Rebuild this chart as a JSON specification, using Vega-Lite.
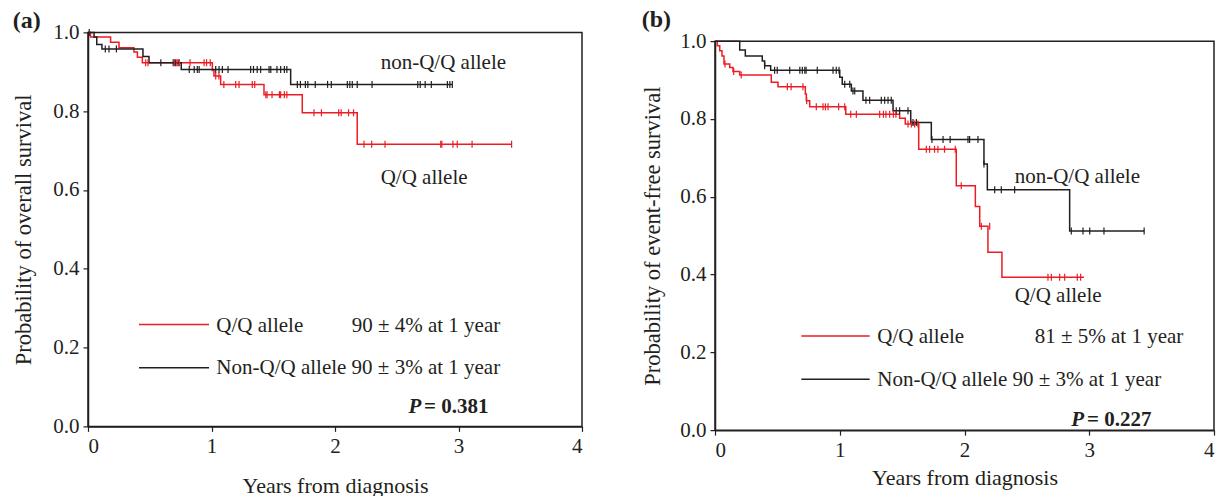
{
  "$schema": "https://vega.github.io/schema/vega-lite/v6.json",
  "background": "white",
  "padding": {"left": 12, "top": 6, "right": 4, "bottom": 0},
  "spacing": 57,
  "center": true,
  "config": {
    "font": "Liberation Serif",
    "view": {"stroke": "#231f20", "strokeWidth": 1.5},
    "axis": {
      "grid": false,
      "domainColor": "#231f20",
      "domainWidth": 1.5,
      "tickColor": "#231f20",
      "tickWidth": 1.2,
      "tickSize": 5,
      "labelColor": "#231f20",
      "titleColor": "#231f20",
      "labelFont": "Liberation Serif",
      "titleFont": "Liberation Serif",
      "labelFontSize": 21,
      "titleFontSize": 22,
      "titleFontWeight": "normal",
      "labelPadding": 4
    },
    "text": {"font": "Liberation Serif", "color": "#231f20"}
  },
  "datasets": {
    "a_steps": [
      {"group": "Q/Q", "t": 0, "s": 1.0},
      {"group": "Q/Q", "t": 0.02, "s": 0.988},
      {"group": "Q/Q", "t": 0.183, "s": 0.975},
      {"group": "Q/Q", "t": 0.251, "s": 0.961},
      {"group": "Q/Q", "t": 0.372, "s": 0.95},
      {"group": "Q/Q", "t": 0.40, "s": 0.937},
      {"group": "Q/Q", "t": 0.44, "s": 0.923},
      {"group": "Q/Q", "t": 1.007, "s": 0.903},
      {"group": "Q/Q", "t": 1.02, "s": 0.889},
      {"group": "Q/Q", "t": 1.074, "s": 0.868},
      {"group": "Q/Q", "t": 1.425, "s": 0.842},
      {"group": "Q/Q", "t": 1.735, "s": 0.796},
      {"group": "Q/Q", "t": 2.18, "s": 0.716},
      {"group": "Q/Q", "t": 3.43, "s": 0.716},
      {"group": "non-Q/Q", "t": 0, "s": 1.0},
      {"group": "non-Q/Q", "t": 0.049, "s": 0.988},
      {"group": "non-Q/Q", "t": 0.071, "s": 0.969},
      {"group": "non-Q/Q", "t": 0.113, "s": 0.958},
      {"group": "non-Q/Q", "t": 0.445, "s": 0.939},
      {"group": "non-Q/Q", "t": 0.494, "s": 0.923},
      {"group": "non-Q/Q", "t": 0.755, "s": 0.906},
      {"group": "non-Q/Q", "t": 1.641, "s": 0.868},
      {"group": "non-Q/Q", "t": 2.95, "s": 0.868}
    ],
    "a_cens": [
      {"group": "non-Q/Q", "t": 0.01, "s": 1.0},
      {"group": "non-Q/Q", "t": 0.14, "s": 0.958},
      {"group": "non-Q/Q", "t": 0.17, "s": 0.958},
      {"group": "non-Q/Q", "t": 0.23, "s": 0.958},
      {"group": "non-Q/Q", "t": 0.59, "s": 0.923},
      {"group": "non-Q/Q", "t": 0.69, "s": 0.923},
      {"group": "non-Q/Q", "t": 0.71, "s": 0.923},
      {"group": "non-Q/Q", "t": 0.73, "s": 0.923},
      {"group": "non-Q/Q", "t": 0.82, "s": 0.906},
      {"group": "non-Q/Q", "t": 0.86, "s": 0.906},
      {"group": "non-Q/Q", "t": 0.885, "s": 0.906},
      {"group": "non-Q/Q", "t": 0.90, "s": 0.906},
      {"group": "non-Q/Q", "t": 1.034, "s": 0.906},
      {"group": "non-Q/Q", "t": 1.061, "s": 0.906},
      {"group": "non-Q/Q", "t": 1.088, "s": 0.906},
      {"group": "non-Q/Q", "t": 1.134, "s": 0.906},
      {"group": "non-Q/Q", "t": 1.317, "s": 0.906},
      {"group": "non-Q/Q", "t": 1.34, "s": 0.906},
      {"group": "non-Q/Q", "t": 1.37, "s": 0.906},
      {"group": "non-Q/Q", "t": 1.398, "s": 0.906},
      {"group": "non-Q/Q", "t": 1.466, "s": 0.906},
      {"group": "non-Q/Q", "t": 1.48, "s": 0.906},
      {"group": "non-Q/Q", "t": 1.53, "s": 0.906},
      {"group": "non-Q/Q", "t": 1.56, "s": 0.906},
      {"group": "non-Q/Q", "t": 1.59, "s": 0.906},
      {"group": "non-Q/Q", "t": 1.61, "s": 0.906},
      {"group": "non-Q/Q", "t": 1.695, "s": 0.868},
      {"group": "non-Q/Q", "t": 1.72, "s": 0.868},
      {"group": "non-Q/Q", "t": 1.76, "s": 0.868},
      {"group": "non-Q/Q", "t": 1.78, "s": 0.868},
      {"group": "non-Q/Q", "t": 1.84, "s": 0.868},
      {"group": "non-Q/Q", "t": 1.94, "s": 0.868},
      {"group": "non-Q/Q", "t": 1.97, "s": 0.868},
      {"group": "non-Q/Q", "t": 2.10, "s": 0.868},
      {"group": "non-Q/Q", "t": 2.12, "s": 0.868},
      {"group": "non-Q/Q", "t": 2.14, "s": 0.868},
      {"group": "non-Q/Q", "t": 2.18, "s": 0.868},
      {"group": "non-Q/Q", "t": 2.30, "s": 0.868},
      {"group": "non-Q/Q", "t": 2.67, "s": 0.868},
      {"group": "non-Q/Q", "t": 2.69, "s": 0.868},
      {"group": "non-Q/Q", "t": 2.73, "s": 0.868},
      {"group": "non-Q/Q", "t": 2.78, "s": 0.868},
      {"group": "non-Q/Q", "t": 2.91, "s": 0.868},
      {"group": "non-Q/Q", "t": 2.93, "s": 0.868},
      {"group": "non-Q/Q", "t": 2.95, "s": 0.868},
      {"group": "Q/Q", "t": 0.467, "s": 0.923},
      {"group": "Q/Q", "t": 0.486, "s": 0.923},
      {"group": "Q/Q", "t": 0.70, "s": 0.923},
      {"group": "Q/Q", "t": 0.72, "s": 0.923},
      {"group": "Q/Q", "t": 0.74, "s": 0.923},
      {"group": "Q/Q", "t": 0.826, "s": 0.923},
      {"group": "Q/Q", "t": 0.94, "s": 0.923},
      {"group": "Q/Q", "t": 0.96, "s": 0.923},
      {"group": "Q/Q", "t": 0.99, "s": 0.923},
      {"group": "Q/Q", "t": 1.034, "s": 0.889},
      {"group": "Q/Q", "t": 1.06, "s": 0.889},
      {"group": "Q/Q", "t": 1.10, "s": 0.868},
      {"group": "Q/Q", "t": 1.196, "s": 0.868},
      {"group": "Q/Q", "t": 1.223, "s": 0.868},
      {"group": "Q/Q", "t": 1.33, "s": 0.868},
      {"group": "Q/Q", "t": 1.35, "s": 0.868},
      {"group": "Q/Q", "t": 1.44, "s": 0.842},
      {"group": "Q/Q", "t": 1.45, "s": 0.842},
      {"group": "Q/Q", "t": 1.49, "s": 0.842},
      {"group": "Q/Q", "t": 1.55, "s": 0.842},
      {"group": "Q/Q", "t": 1.56, "s": 0.842},
      {"group": "Q/Q", "t": 1.59, "s": 0.842},
      {"group": "Q/Q", "t": 1.61, "s": 0.842},
      {"group": "Q/Q", "t": 1.83, "s": 0.796},
      {"group": "Q/Q", "t": 1.89, "s": 0.796},
      {"group": "Q/Q", "t": 2.03, "s": 0.796},
      {"group": "Q/Q", "t": 2.05, "s": 0.796},
      {"group": "Q/Q", "t": 2.11, "s": 0.796},
      {"group": "Q/Q", "t": 2.15, "s": 0.796},
      {"group": "Q/Q", "t": 2.235, "s": 0.716},
      {"group": "Q/Q", "t": 2.297, "s": 0.716},
      {"group": "Q/Q", "t": 2.405, "s": 0.716},
      {"group": "Q/Q", "t": 2.856, "s": 0.716},
      {"group": "Q/Q", "t": 2.865, "s": 0.716},
      {"group": "Q/Q", "t": 2.955, "s": 0.716},
      {"group": "Q/Q", "t": 2.99, "s": 0.716},
      {"group": "Q/Q", "t": 3.11, "s": 0.716},
      {"group": "Q/Q", "t": 3.43, "s": 0.716}
    ],
    "a_notes": [
      {"x": 2.37, "y": 0.922, "label": "non-Q/Q allele"},
      {"x": 2.37, "y": 0.631, "label": "Q/Q allele"},
      {"x": 1.039, "y": 0.256, "label": "Q/Q allele"},
      {"x": 2.135, "y": 0.256, "label": "90 ± 4% at 1 year"},
      {"x": 1.039, "y": 0.147, "label": "Non-Q/Q allele 90 ± 3% at 1 year"}
    ],
    "a_key": [
      {"group": "Q/Q", "x1": 0.413, "x2": 0.98, "y": 0.2586},
      {"group": "non-Q/Q", "x1": 0.413, "x2": 0.98, "y": 0.149}
    ],
    "a_p": [{"x": 2.70, "x2": 2.72, "y": 0.05, "p": "P", "v": "= 0.381"}],
    "b_steps": [
      {"group": "Q/Q", "t": 0, "s": 1.0},
      {"group": "Q/Q", "t": 0.018, "s": 0.988},
      {"group": "Q/Q", "t": 0.038, "s": 0.975},
      {"group": "Q/Q", "t": 0.056, "s": 0.962},
      {"group": "Q/Q", "t": 0.072, "s": 0.941},
      {"group": "Q/Q", "t": 0.118, "s": 0.932},
      {"group": "Q/Q", "t": 0.144, "s": 0.922},
      {"group": "Q/Q", "t": 0.198, "s": 0.913},
      {"group": "Q/Q", "t": 0.451, "s": 0.894},
      {"group": "Q/Q", "t": 0.505, "s": 0.883},
      {"group": "Q/Q", "t": 0.724, "s": 0.864},
      {"group": "Q/Q", "t": 0.732, "s": 0.847},
      {"group": "Q/Q", "t": 0.759, "s": 0.831},
      {"group": "Q/Q", "t": 1.048, "s": 0.812},
      {"group": "Q/Q", "t": 1.48, "s": 0.802},
      {"group": "Q/Q", "t": 1.525, "s": 0.787},
      {"group": "Q/Q", "t": 1.633, "s": 0.722},
      {"group": "Q/Q", "t": 1.934, "s": 0.628},
      {"group": "Q/Q", "t": 2.087, "s": 0.575},
      {"group": "Q/Q", "t": 2.122, "s": 0.524},
      {"group": "Q/Q", "t": 2.188, "s": 0.457},
      {"group": "Q/Q", "t": 2.30, "s": 0.393},
      {"group": "Q/Q", "t": 2.958, "s": 0.393},
      {"group": "non-Q/Q", "t": 0, "s": 1.0},
      {"group": "non-Q/Q", "t": 0.198, "s": 0.977},
      {"group": "non-Q/Q", "t": 0.243, "s": 0.962},
      {"group": "non-Q/Q", "t": 0.379, "s": 0.949},
      {"group": "non-Q/Q", "t": 0.398, "s": 0.937},
      {"group": "non-Q/Q", "t": 0.446, "s": 0.925},
      {"group": "non-Q/Q", "t": 1.0, "s": 0.907},
      {"group": "non-Q/Q", "t": 1.02, "s": 0.889},
      {"group": "non-Q/Q", "t": 1.093, "s": 0.872},
      {"group": "non-Q/Q", "t": 1.186, "s": 0.848},
      {"group": "non-Q/Q", "t": 1.427, "s": 0.821},
      {"group": "non-Q/Q", "t": 1.569, "s": 0.791},
      {"group": "non-Q/Q", "t": 1.734, "s": 0.747},
      {"group": "non-Q/Q", "t": 2.156, "s": 0.684},
      {"group": "non-Q/Q", "t": 2.183, "s": 0.618},
      {"group": "non-Q/Q", "t": 2.843, "s": 0.512},
      {"group": "non-Q/Q", "t": 3.44, "s": 0.512}
    ],
    "b_cens": [
      {"group": "non-Q/Q", "t": 0.398, "s": 0.937},
      {"group": "non-Q/Q", "t": 0.478, "s": 0.925},
      {"group": "non-Q/Q", "t": 0.499, "s": 0.925},
      {"group": "non-Q/Q", "t": 0.599, "s": 0.925},
      {"group": "non-Q/Q", "t": 0.68, "s": 0.925},
      {"group": "non-Q/Q", "t": 0.70, "s": 0.925},
      {"group": "non-Q/Q", "t": 0.72, "s": 0.925},
      {"group": "non-Q/Q", "t": 0.73, "s": 0.925},
      {"group": "non-Q/Q", "t": 0.82, "s": 0.925},
      {"group": "non-Q/Q", "t": 0.946, "s": 0.925},
      {"group": "non-Q/Q", "t": 0.972, "s": 0.925},
      {"group": "non-Q/Q", "t": 0.994, "s": 0.925},
      {"group": "non-Q/Q", "t": 1.04, "s": 0.889},
      {"group": "non-Q/Q", "t": 1.08, "s": 0.889},
      {"group": "non-Q/Q", "t": 1.106, "s": 0.872},
      {"group": "non-Q/Q", "t": 1.12, "s": 0.872},
      {"group": "non-Q/Q", "t": 1.21, "s": 0.848},
      {"group": "non-Q/Q", "t": 1.24, "s": 0.848},
      {"group": "non-Q/Q", "t": 1.333, "s": 0.848},
      {"group": "non-Q/Q", "t": 1.36, "s": 0.848},
      {"group": "non-Q/Q", "t": 1.387, "s": 0.848},
      {"group": "non-Q/Q", "t": 1.413, "s": 0.848},
      {"group": "non-Q/Q", "t": 1.453, "s": 0.821},
      {"group": "non-Q/Q", "t": 1.48, "s": 0.821},
      {"group": "non-Q/Q", "t": 1.547, "s": 0.821},
      {"group": "non-Q/Q", "t": 1.587, "s": 0.791},
      {"group": "non-Q/Q", "t": 1.614, "s": 0.791},
      {"group": "non-Q/Q", "t": 1.739, "s": 0.747},
      {"group": "non-Q/Q", "t": 1.828, "s": 0.747},
      {"group": "non-Q/Q", "t": 1.885, "s": 0.747},
      {"group": "non-Q/Q", "t": 2.028, "s": 0.747},
      {"group": "non-Q/Q", "t": 2.041, "s": 0.747},
      {"group": "non-Q/Q", "t": 2.108, "s": 0.747},
      {"group": "non-Q/Q", "t": 2.156, "s": 0.684},
      {"group": "non-Q/Q", "t": 2.242, "s": 0.618},
      {"group": "non-Q/Q", "t": 2.295, "s": 0.618},
      {"group": "non-Q/Q", "t": 2.402, "s": 0.618},
      {"group": "non-Q/Q", "t": 2.856, "s": 0.512},
      {"group": "non-Q/Q", "t": 2.95, "s": 0.512},
      {"group": "non-Q/Q", "t": 3.004, "s": 0.512},
      {"group": "non-Q/Q", "t": 3.118, "s": 0.512},
      {"group": "non-Q/Q", "t": 3.44, "s": 0.512},
      {"group": "Q/Q", "t": 0.08, "s": 0.941},
      {"group": "Q/Q", "t": 0.15, "s": 0.922},
      {"group": "Q/Q", "t": 0.21, "s": 0.913},
      {"group": "Q/Q", "t": 0.58, "s": 0.883},
      {"group": "Q/Q", "t": 0.61, "s": 0.883},
      {"group": "Q/Q", "t": 0.705, "s": 0.883},
      {"group": "Q/Q", "t": 0.735, "s": 0.847},
      {"group": "Q/Q", "t": 0.812, "s": 0.831},
      {"group": "Q/Q", "t": 0.866, "s": 0.831},
      {"group": "Q/Q", "t": 0.885, "s": 0.831},
      {"group": "Q/Q", "t": 0.906, "s": 0.831},
      {"group": "Q/Q", "t": 0.991, "s": 0.831},
      {"group": "Q/Q", "t": 1.04, "s": 0.831},
      {"group": "Q/Q", "t": 1.088, "s": 0.812},
      {"group": "Q/Q", "t": 1.133, "s": 0.812},
      {"group": "Q/Q", "t": 1.32, "s": 0.812},
      {"group": "Q/Q", "t": 1.35, "s": 0.812},
      {"group": "Q/Q", "t": 1.37, "s": 0.812},
      {"group": "Q/Q", "t": 1.40, "s": 0.812},
      {"group": "Q/Q", "t": 1.43, "s": 0.812},
      {"group": "Q/Q", "t": 1.45, "s": 0.812},
      {"group": "Q/Q", "t": 1.547, "s": 0.787},
      {"group": "Q/Q", "t": 1.574, "s": 0.787},
      {"group": "Q/Q", "t": 1.60, "s": 0.787},
      {"group": "Q/Q", "t": 1.627, "s": 0.787},
      {"group": "Q/Q", "t": 1.694, "s": 0.722},
      {"group": "Q/Q", "t": 1.72, "s": 0.722},
      {"group": "Q/Q", "t": 1.76, "s": 0.722},
      {"group": "Q/Q", "t": 1.787, "s": 0.722},
      {"group": "Q/Q", "t": 1.84, "s": 0.722},
      {"group": "Q/Q", "t": 1.926, "s": 0.722},
      {"group": "Q/Q", "t": 1.974, "s": 0.628},
      {"group": "Q/Q", "t": 2.135, "s": 0.524},
      {"group": "Q/Q", "t": 2.202, "s": 0.524},
      {"group": "Q/Q", "t": 2.669, "s": 0.393},
      {"group": "Q/Q", "t": 2.696, "s": 0.393},
      {"group": "Q/Q", "t": 2.763, "s": 0.393},
      {"group": "Q/Q", "t": 2.803, "s": 0.393},
      {"group": "Q/Q", "t": 2.904, "s": 0.393},
      {"group": "Q/Q", "t": 2.931, "s": 0.393}
    ],
    "b_notes": [
      {"x": 2.402, "y": 0.651, "label": "non-Q/Q allele"},
      {"x": 2.402, "y": 0.345, "label": "Q/Q allele"},
      {"x": 1.301, "y": 0.240, "label": "Q/Q allele"},
      {"x": 2.563, "y": 0.240, "label": "81 ± 5% at 1 year"},
      {"x": 1.301, "y": 0.129, "label": "Non-Q/Q allele 90 ± 3% at 1 year"}
    ],
    "b_key": [
      {"group": "Q/Q", "x1": 0.692, "x2": 1.24, "y": 0.242},
      {"group": "non-Q/Q", "x1": 0.692, "x2": 1.24, "y": 0.131}
    ],
    "b_p": [{"x": 2.958, "x2": 2.982, "y": 0.026, "p": "P", "v": "= 0.227"}]
  },
  "hconcat": [
    {
      "width": 494,
      "height": 394,
      "title": {"text": "(a)", "anchor": "start", "frame": "bounds", "fontSize": 24, "fontWeight": "bold", "font": "Liberation Serif", "color": "#231f20", "offset": -12},
      "layer": [
        {
          "data": {"name": "a_steps"},
          "mark": {"type": "line", "interpolate": "step-after", "strokeWidth": 1.5},
          "encoding": {
            "x": {"field": "t", "type": "quantitative", "scale": {"domain": [0, 4], "nice": false}, "axis": {"values": [0, 1, 2, 3, 4], "format": "d", "title": "Years from diagnosis", "titlePadding": 19.5}},
            "y": {"field": "s", "type": "quantitative", "scale": {"domain": [0, 1], "nice": false}, "axis": {"values": [0, 0.2, 0.4, 0.6, 0.8, 1.0], "format": ".1f", "title": "Probability of overall survival", "titlePadding": 17, "titleFontSize": 22.5}},
            "color": {"field": "group", "type": "nominal", "scale": {"domain": ["Q/Q", "non-Q/Q"], "range": ["#ec1c24", "#231f20"]}, "legend": null}
          }
        },
        {
          "data": {"name": "a_cens"},
          "mark": {"type": "point", "shape": "M0,-1L0,1", "size": 49, "strokeWidth": 1.2, "filled": false, "opacity": 1},
          "encoding": {
            "x": {"field": "t", "type": "quantitative"},
            "y": {"field": "s", "type": "quantitative"},
            "color": {"field": "group", "type": "nominal", "legend": null}
          }
        },
        {
          "data": {"name": "a_key"},
          "mark": {"type": "rule", "strokeWidth": 1.5},
          "encoding": {
            "x": {"field": "x1", "type": "quantitative"},
            "x2": {"field": "x2"},
            "y": {"field": "y", "type": "quantitative"},
            "color": {"field": "group", "type": "nominal", "legend": null}
          }
        },
        {
          "data": {"name": "a_notes"},
          "mark": {"type": "text", "align": "left", "baseline": "middle", "fontSize": 21},
          "encoding": {
            "x": {"field": "x", "type": "quantitative"},
            "y": {"field": "y", "type": "quantitative"},
            "text": {"field": "label"}
          }
        },
        {
          "data": {"name": "a_p"},
          "mark": {"type": "text", "align": "right", "baseline": "middle", "fontSize": 21, "fontWeight": "bold", "fontStyle": "italic"},
          "encoding": {
            "x": {"field": "x", "type": "quantitative"},
            "y": {"field": "y", "type": "quantitative"},
            "text": {"field": "p"}
          }
        },
        {
          "data": {"name": "a_p"},
          "mark": {"type": "text", "align": "left", "baseline": "middle", "fontSize": 21, "fontWeight": "bold"},
          "encoding": {
            "x": {"field": "x2", "type": "quantitative"},
            "y": {"field": "y", "type": "quantitative"},
            "text": {"field": "v"}
          }
        }
      ]
    },
    {
      "width": 499,
      "height": 389,
      "title": {"text": "(b)", "anchor": "start", "frame": "bounds", "fontSize": 24, "fontWeight": "bold", "font": "Liberation Serif", "color": "#231f20", "offset": -1.5},
      "layer": [
        {
          "data": {"name": "b_steps"},
          "mark": {"type": "line", "interpolate": "step-after", "strokeWidth": 1.5},
          "encoding": {
            "x": {"field": "t", "type": "quantitative", "scale": {"domain": [0, 4], "nice": false}, "axis": {"values": [0, 1, 2, 3, 4], "format": "d", "title": "Years from diagnosis", "titlePadding": 7}},
            "y": {"field": "s", "type": "quantitative", "scale": {"domain": [0, 1], "nice": false}, "axis": {"values": [0, 0.2, 0.4, 0.6, 0.8, 1.0], "format": ".1f", "title": "Probability of event-free survival", "titlePadding": 15, "titleFontSize": 22.5}},
            "color": {"field": "group", "type": "nominal", "scale": {"domain": ["Q/Q", "non-Q/Q"], "range": ["#ec1c24", "#231f20"]}, "legend": null}
          }
        },
        {
          "data": {"name": "b_cens"},
          "mark": {"type": "point", "shape": "M0,-1L0,1", "size": 49, "strokeWidth": 1.2, "filled": false, "opacity": 1},
          "encoding": {
            "x": {"field": "t", "type": "quantitative"},
            "y": {"field": "s", "type": "quantitative"},
            "color": {"field": "group", "type": "nominal", "legend": null}
          }
        },
        {
          "data": {"name": "b_key"},
          "mark": {"type": "rule", "strokeWidth": 1.5},
          "encoding": {
            "x": {"field": "x1", "type": "quantitative"},
            "x2": {"field": "x2"},
            "y": {"field": "y", "type": "quantitative"},
            "color": {"field": "group", "type": "nominal", "legend": null}
          }
        },
        {
          "data": {"name": "b_notes"},
          "mark": {"type": "text", "align": "left", "baseline": "middle", "fontSize": 21},
          "encoding": {
            "x": {"field": "x", "type": "quantitative"},
            "y": {"field": "y", "type": "quantitative"},
            "text": {"field": "label"}
          }
        },
        {
          "data": {"name": "b_p"},
          "mark": {"type": "text", "align": "right", "baseline": "middle", "fontSize": 21, "fontWeight": "bold", "fontStyle": "italic"},
          "encoding": {
            "x": {"field": "x", "type": "quantitative"},
            "y": {"field": "y", "type": "quantitative"},
            "text": {"field": "p"}
          }
        },
        {
          "data": {"name": "b_p"},
          "mark": {"type": "text", "align": "left", "baseline": "middle", "fontSize": 21, "fontWeight": "bold"},
          "encoding": {
            "x": {"field": "x2", "type": "quantitative"},
            "y": {"field": "y", "type": "quantitative"},
            "text": {"field": "v"}
          }
        }
      ]
    }
  ]
}
